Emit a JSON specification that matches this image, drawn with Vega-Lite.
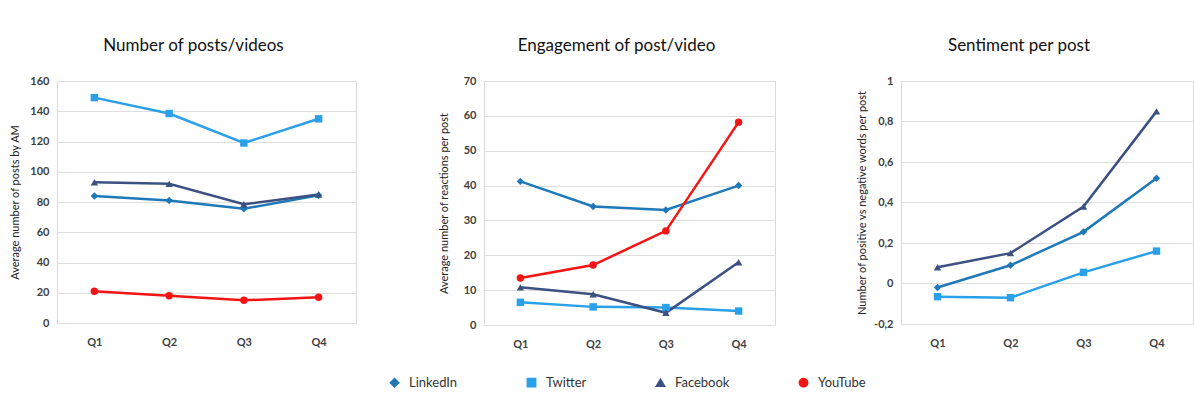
{
  "$schema": "https://vega.github.io/schema/vega-lite/v6.json",
  "padding": {"left": 9, "top": 36, "right": 4, "bottom": 5},
  "background": "white",
  "datasets": {
    "stats": [
      {"metric": "posts", "platform": "LinkedIn", "quarter": "Q1", "value": 84},
      {"metric": "posts", "platform": "LinkedIn", "quarter": "Q2", "value": 81},
      {"metric": "posts", "platform": "LinkedIn", "quarter": "Q3", "value": 75.5},
      {"metric": "posts", "platform": "LinkedIn", "quarter": "Q4", "value": 84.5},
      {"metric": "posts", "platform": "Twitter", "quarter": "Q1", "value": 149},
      {"metric": "posts", "platform": "Twitter", "quarter": "Q2", "value": 138.5},
      {"metric": "posts", "platform": "Twitter", "quarter": "Q3", "value": 119},
      {"metric": "posts", "platform": "Twitter", "quarter": "Q4", "value": 135},
      {"metric": "posts", "platform": "Facebook", "quarter": "Q1", "value": 93},
      {"metric": "posts", "platform": "Facebook", "quarter": "Q2", "value": 92},
      {"metric": "posts", "platform": "Facebook", "quarter": "Q3", "value": 78.5},
      {"metric": "posts", "platform": "Facebook", "quarter": "Q4", "value": 85},
      {"metric": "posts", "platform": "YouTube", "quarter": "Q1", "value": 21},
      {"metric": "posts", "platform": "YouTube", "quarter": "Q2", "value": 18},
      {"metric": "posts", "platform": "YouTube", "quarter": "Q3", "value": 15},
      {"metric": "posts", "platform": "YouTube", "quarter": "Q4", "value": 17},
      {"metric": "engagement", "platform": "LinkedIn", "quarter": "Q1", "value": 41.2},
      {"metric": "engagement", "platform": "LinkedIn", "quarter": "Q2", "value": 34},
      {"metric": "engagement", "platform": "LinkedIn", "quarter": "Q3", "value": 33},
      {"metric": "engagement", "platform": "LinkedIn", "quarter": "Q4", "value": 40},
      {"metric": "engagement", "platform": "Twitter", "quarter": "Q1", "value": 6.5},
      {"metric": "engagement", "platform": "Twitter", "quarter": "Q2", "value": 5.2},
      {"metric": "engagement", "platform": "Twitter", "quarter": "Q3", "value": 5},
      {"metric": "engagement", "platform": "Twitter", "quarter": "Q4", "value": 4},
      {"metric": "engagement", "platform": "Facebook", "quarter": "Q1", "value": 10.8},
      {"metric": "engagement", "platform": "Facebook", "quarter": "Q2", "value": 8.8},
      {"metric": "engagement", "platform": "Facebook", "quarter": "Q3", "value": 3.5},
      {"metric": "engagement", "platform": "Facebook", "quarter": "Q4", "value": 18},
      {"metric": "engagement", "platform": "YouTube", "quarter": "Q1", "value": 13.5},
      {"metric": "engagement", "platform": "YouTube", "quarter": "Q2", "value": 17.2},
      {"metric": "engagement", "platform": "YouTube", "quarter": "Q3", "value": 27},
      {"metric": "engagement", "platform": "YouTube", "quarter": "Q4", "value": 58.2},
      {"metric": "sentiment", "platform": "LinkedIn", "quarter": "Q1", "value": -0.02},
      {"metric": "sentiment", "platform": "LinkedIn", "quarter": "Q2", "value": 0.09},
      {"metric": "sentiment", "platform": "LinkedIn", "quarter": "Q3", "value": 0.255},
      {"metric": "sentiment", "platform": "LinkedIn", "quarter": "Q4", "value": 0.52},
      {"metric": "sentiment", "platform": "Twitter", "quarter": "Q1", "value": -0.065},
      {"metric": "sentiment", "platform": "Twitter", "quarter": "Q2", "value": -0.07},
      {"metric": "sentiment", "platform": "Twitter", "quarter": "Q3", "value": 0.055},
      {"metric": "sentiment", "platform": "Twitter", "quarter": "Q4", "value": 0.16},
      {"metric": "sentiment", "platform": "Facebook", "quarter": "Q1", "value": 0.08},
      {"metric": "sentiment", "platform": "Facebook", "quarter": "Q2", "value": 0.15},
      {"metric": "sentiment", "platform": "Facebook", "quarter": "Q3", "value": 0.38},
      {"metric": "sentiment", "platform": "Facebook", "quarter": "Q4", "value": 0.85}
    ]
  },
  "config": {
    "font": "Lato",
    "view": {"stroke": "#d9d9d9", "strokeWidth": 1},
    "title": {"fontSize": 17, "fontWeight": "normal", "color": "#111111", "offset": 20, "anchor": "middle"},
    "axis": {
      "labelFont": "Lato", "labelFontSize": 11, "labelFontWeight": "bold", "labelColor": "#404040",
      "titleFont": "Lato", "titleFontSize": 11, "titleFontWeight": "normal", "titleColor": "#222222",
      "ticks": false, "domain": false, "gridColor": "#dedede", "gridWidth": 1
    },
    "axisX": {"grid": false, "labelPadding": 13, "labelAngle": 0},
    "axisY": {"labelPadding": 8},
    "legend": {
      "direction": "horizontal", "title": null,
      "labelFont": "Lato", "labelFontSize": 13, "labelColor": "#333333",
      "symbolSize": 70, "labelOffset": 8, "columnPadding": 66
    }
  },
  "spacing": 80,
  "resolve": {"scale": {"y": "independent"}},
  "hconcat": [
    {
      "title": {"text": "Number of posts/videos", "dx": -13},
      "width": 299, "height": 242,
      "data": {"name": "stats"},
      "transform": [{"filter": "datum.metric === 'posts'"}],
      "encoding": {
        "x": {"field": "quarter", "type": "ordinal", "title": null, "scale": {"type": "point", "padding": 0.5}},
        "y": {"field": "value", "type": "quantitative", "title": "Average number of posts by AM",
              "scale": {"domain": [0, 160], "nice": false},
              "axis": {"values": [0, 20, 40, 60, 80, 100, 120, 140, 160], "titlePadding": 9}},
        "color": {"field": "platform", "type": "nominal",
                  "scale": {"domain": ["LinkedIn", "Twitter", "Facebook", "YouTube"], "range": ["#1f78b8", "#2aa0e8", "#3b5182", "#f51414"]},
                  "legend": {"orient": "none", "legendX": 331, "legendY": 295}}
      },
      "layer": [
        {"mark": {"type": "line", "strokeWidth": 2.5}},
        {"mark": {"type": "point", "filled": true, "opacity": 1, "size": 55},
         "encoding": {"shape": {"field": "platform", "type": "nominal", "legend": null,
           "scale": {"domain": ["LinkedIn", "Twitter", "Facebook", "YouTube"], "range": ["diamond", "square", "triangle-up", "circle"]}}}
        }
      ]
    },
    {
      "title": {"text": "Engagement of post/video", "dx": -13},
      "width": 291, "height": 244,
      "data": {"name": "stats"},
      "transform": [{"filter": "datum.metric === 'engagement'"}],
      "encoding": {
        "x": {"field": "quarter", "type": "ordinal", "title": null, "scale": {"type": "point", "padding": 0.5}},
        "y": {"field": "value", "type": "quantitative", "title": "Average number of reactions per post",
              "scale": {"domain": [0, 70], "nice": false},
              "axis": {"values": [0, 10, 20, 30, 40, 50, 60, 70], "titlePadding": 14}},
        "color": {"field": "platform", "type": "nominal"}
      },
      "layer": [
        {"mark": {"type": "line", "strokeWidth": 2.5}},
        {"mark": {"type": "point", "filled": true, "opacity": 1, "size": 55},
         "encoding": {"shape": {"field": "platform", "type": "nominal", "legend": null}}}
      ]
    },
    {
      "title": {"text": "Sentiment per post", "dx": -28},
      "width": 292, "height": 243,
      "data": {"name": "stats"},
      "transform": [{"filter": "datum.metric === 'sentiment'"}],
      "encoding": {
        "x": {"field": "quarter", "type": "ordinal", "title": null, "scale": {"type": "point", "padding": 0.5}},
        "y": {"field": "value", "type": "quantitative", "title": "Number of positive vs negative words per post",
              "scale": {"domain": [-0.2, 1], "nice": false},
              "axis": {"values": [-0.2, 0, 0.2, 0.4, 0.6, 0.8, 1], "format": ".1~f",
                       "labelExpr": "replace(replace(datum.label, '.', ','), '\u2212', '-')", "titlePadding": 6}},
        "color": {"field": "platform", "type": "nominal"}
      },
      "layer": [
        {"mark": {"type": "line", "strokeWidth": 2.5}},
        {"mark": {"type": "point", "filled": true, "opacity": 1, "size": 55},
         "encoding": {"shape": {"field": "platform", "type": "nominal", "legend": null}}}
      ]
    }
  ]
}
